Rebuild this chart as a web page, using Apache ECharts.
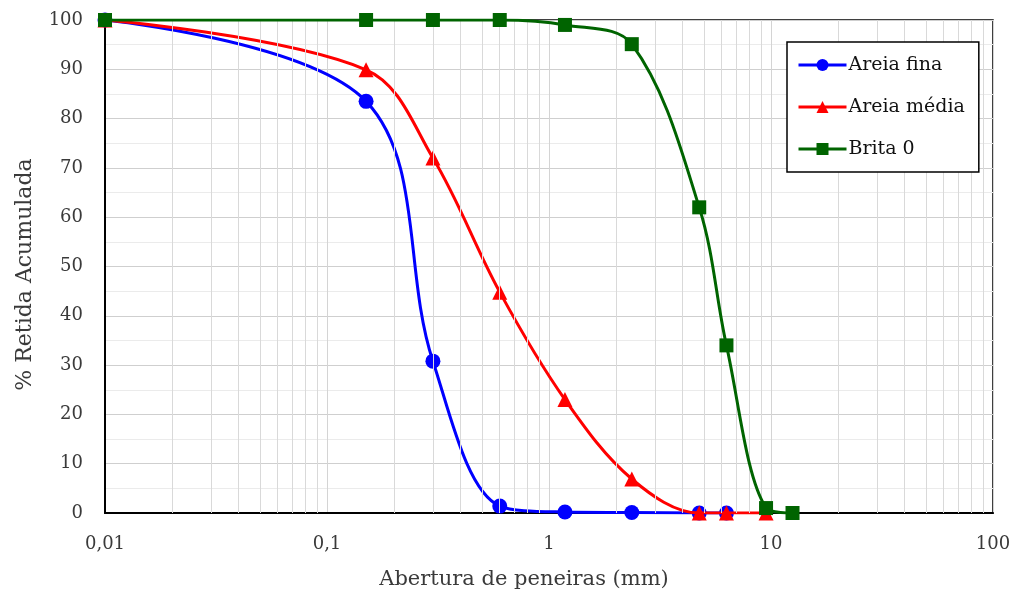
<!DOCTYPE html>
<html>
<head>
<meta charset="utf-8">
<script src="https://cdn.jsdelivr.net/npm/echarts@6/dist/echarts.min.js"></script>
<style>html,body{margin:0;padding:0;background:#fff}#c{width:1016px;height:595px}</style>
</head>
<body>
<div id="c"></div>
<script>
// ---- data ----
const seriesNames = ['Areia fina', 'Areia média', 'Brita 0'];
const fineX   = [0.01, 0.15, 0.3, 0.6, 1.18, 2.36, 4.75, 6.3];
const fineY   = [100, 83.5, 30.8, 1.4, 0.2, 0.1, 0, 0];
const mediumX = [0.01, 0.15, 0.3, 0.6, 1.18, 2.36, 4.75, 6.3, 9.5];
const mediumY = [100, 89.9, 72, 44.8, 23, 6.9, 0, 0, 0];
const gravelX = [0.01, 0.15, 0.3, 0.6, 1.18, 2.36, 4.75, 6.3, 9.5, 12.5];
const gravelY = [100, 100, 100, 100, 99, 95.1, 62, 34, 1, 0];
const xTickLabels = ['0,01', '0,1', '1', '10', '100'];
const xMinorGrid = [0.02,0.03,0.04,0.05,0.06,0.07,0.08,0.09,
                    0.2,0.3,0.4,0.5,0.6,0.7,0.8,0.9,
                    2,3,4,5,6,7,8,9,
                    20,30,40,50,60,70,80,90];

const pair = (xs, ys) => xs.map((x, i) => [x, ys[i]]);
const FONT = '"DejaVu Serif", "Liberation Serif", serif';
const TXT = '#3a3a3a';

const chart = echarts.init(document.getElementById('c'), null, {renderer: 'canvas'});
chart.setOption({
  animation: false,
  backgroundColor: '#fff',
  grid: {left: 105, right: 23, top: 20, bottom: 81, show: true, borderColor: '#000', borderWidth: 1.5, backgroundColor: 'transparent'},
  legend: {
    orient: 'vertical',
    left: 787, top: 42, z: 20,
    padding: [12, 14, 12, 10],
    itemGap: 20,
    itemWidth: 48, itemHeight: 15,
    borderColor: '#000', borderWidth: 1.5,
    backgroundColor: '#fff',
    lineStyle: {width: 3},
    data: seriesNames,
    textStyle: {fontFamily: FONT, fontSize: 19, color: '#111', lineHeight: 22, padding: [0,0,0,-3]}
  },
  xAxis: {
    type: 'log', logBase: 10, min: 0.01, max: 100,
    name: 'Abertura de peneiras (mm)', nameLocation: 'middle', nameGap: 56,
    nameTextStyle: {fontFamily: FONT, fontSize: 21, color: TXT, padding: [0, 50, 0, 0]},
    axisLine: {show: true, onZero: false, lineStyle: {color: '#000', width: 2}},
    axisTick: {show: false},
    axisLabel: {fontFamily: FONT, fontSize: 18, color: TXT, margin: 22,
      formatter: (v, i) => xTickLabels[i] !== undefined ? xTickLabels[i] : String(v).replace('.', ',')},
    splitLine: {show: true, lineStyle: {color: '#d4d4d4', width: 1}}
  },
  yAxis: {
    type: 'value', min: 0, max: 100, interval: 10,
    name: '% Retida Acumulada', nameLocation: 'middle', nameGap: 69, nameRotate: 90,
    nameTextStyle: {fontFamily: FONT, fontSize: 22, color: TXT, padding: [0, 16, 0, 0]},
    axisLine: {show: true, lineStyle: {color: '#000', width: 2}},
    axisTick: {show: false},
    axisLabel: {fontFamily: FONT, fontSize: 18, color: TXT, margin: 22},
    splitLine: {show: true, lineStyle: {color: '#cfcfcf', width: 1}},
    minorTick: {show: false, splitNumber: 2},
    minorSplitLine: {show: true, lineStyle: {color: '#ebebeb', width: 1}}
  },
  series: [
    {
      type: 'line', name: '__grid', data: [], silent: true, z: 1,
      markLine: {silent: true, symbol: 'none', label: {show: false}, animation: false,
        lineStyle: {color: '#d9d9d9', width: 1, type: 'solid'},
        data: xMinorGrid.map(v => ({xAxis: v}))}
    },
    {
      type: 'line', name: seriesNames[0], data: pair(fineX, fineY), smooth: 0.35,
      symbol: 'circle', symbolSize: 15, z: 3,
      lineStyle: {color: '#0000ff', width: 3}, itemStyle: {color: '#0000ff'}
    },
    {
      type: 'line', name: seriesNames[1], data: pair(mediumX, mediumY), smooth: 0.35,
      symbol: 'triangle', symbolSize: 15, z: 4,
      lineStyle: {color: '#ff0000', width: 3}, itemStyle: {color: '#ff0000'}
    },
    {
      type: 'line', name: seriesNames[2], data: pair(gravelX, gravelY), smooth: 0.35,
      symbol: 'rect', symbolSize: 14, z: 5,
      lineStyle: {color: '#006400', width: 3}, itemStyle: {color: '#006400'}
    }
  ]
});
</script>
</body>
</html>
